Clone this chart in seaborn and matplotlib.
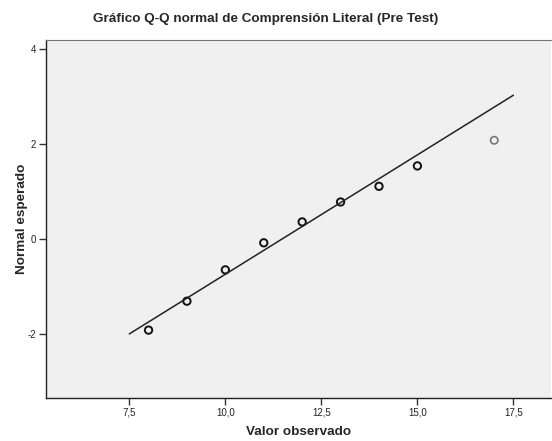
import matplotlib.pyplot as plt
import matplotlib.ticker as mticker
import pandas as pd
import seaborn as sns

# observed values and their expected normal scores
valor_observado = [8, 9, 10, 11, 12, 13, 14, 15, 17]
normal_esperado = [-1.92, -1.31, -0.65, -0.08, 0.36, 0.78, 1.11, 1.54, 2.08]

# reference line endpoints
linea_x = [7.5, 17.5]
linea_y = [-2.0, 3.03]

x_ticks = [7.5, 10.0, 12.5, 15.0, 17.5]
y_ticks = [-2, 0, 2, 4]

sns.set_style("white")
plt.rcParams['font.family'] = ['Liberation Sans', 'DejaVu Sans']

df = pd.DataFrame({"x": valor_observado, "y": normal_esperado})
df_line = pd.DataFrame({"x": linea_x, "y": linea_y})

fig = plt.figure(figsize=(5.52, 4.41), dpi=100)
ax = fig.add_axes([0.0833, 0.0975, 0.915, 0.8115])
ax.set_facecolor("#f0f0f0")

sns.lineplot(data=df_line, x="x", y="y", color="#222222", linewidth=1.1, ax=ax)
sns.scatterplot(data=df.iloc[:-1], x="x", y="y", marker="o", s=28,
                facecolor="none", edgecolor="#111111", linewidth=1.4, ax=ax)
sns.scatterplot(data=df.iloc[-1:], x="x", y="y", marker="o", s=28,
                facecolor="none", edgecolor="#777777", linewidth=1.2, ax=ax)

ax.set_xlim(5.33, 18.48)
ax.set_ylim(-3.35, 4.19)
ax.set_xticks(x_ticks)
ax.set_yticks(y_ticks)
ax.xaxis.set_major_formatter(mticker.FuncFormatter(lambda v, p: f"{v:.1f}".replace(".", ",")))
ax.yaxis.set_major_formatter(mticker.FuncFormatter(lambda v, p: f"{v:.0f}"))
ax.tick_params(axis="both", direction="out", length=5, width=1, color="#333333",
               labelsize=7, labelcolor="#222222", pad=2, left=True, bottom=True)

for side in ["left", "bottom"]:
    ax.spines[side].set_color("#222222")
    ax.spines[side].set_linewidth(1.0)
ax.spines["top"].set_color("#777777")
ax.spines["right"].set_visible(False)

ax.set_xlabel("Valor observado", fontsize=9.7, fontweight="bold", labelpad=6)
ax.set_ylabel("Normal esperado", fontsize=9.7, fontweight="bold", labelpad=0)
fig.suptitle("Gráfico Q-Q normal de Comprensión Literal (Pre Test)",
             fontsize=9.7, fontweight="bold", x=0.482, y=0.957, va="center")

fig.savefig("out.png", dpi=100)
